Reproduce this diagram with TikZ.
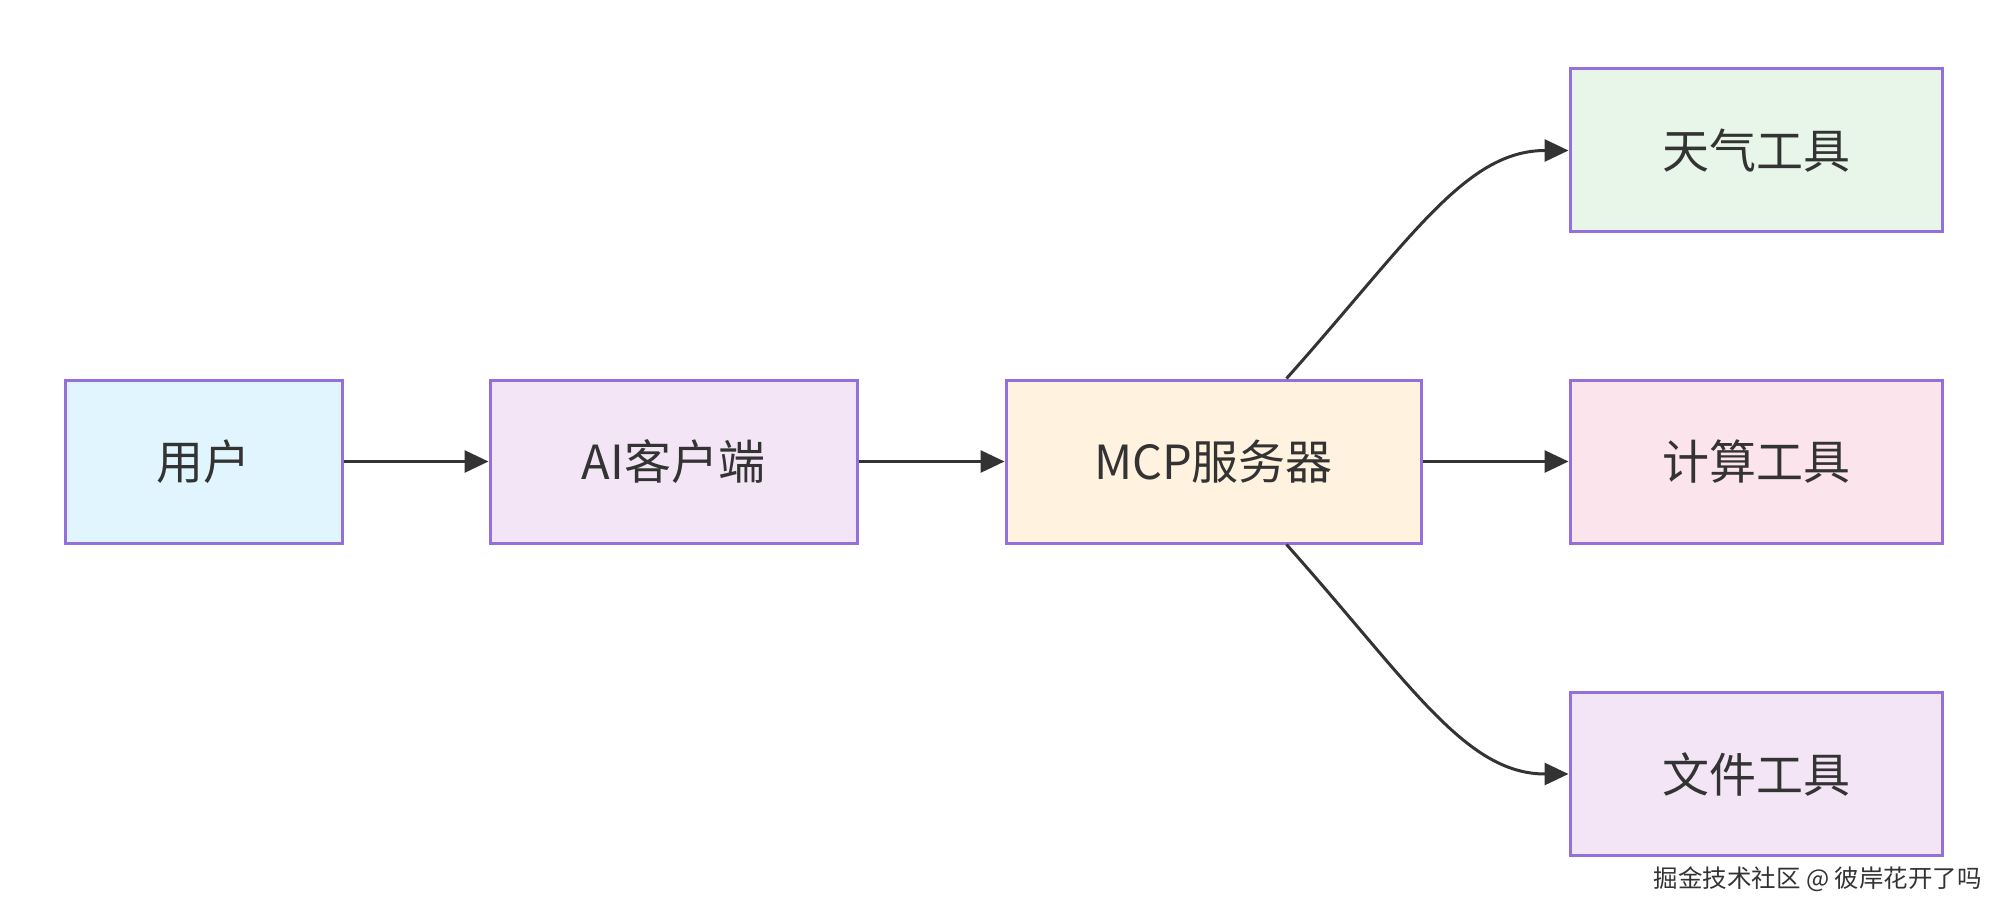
\documentclass[tikz,border=0pt]{standalone}
\usepackage{fontspec}
\setmainfont{Noto Sans CJK SC}
\usetikzlibrary{arrows.meta}
\definecolor{edgecol}{HTML}{9370DB}
\definecolor{txt}{HTML}{333333}
\definecolor{fuser}{HTML}{E1F5FE}
\definecolor{fai}{HTML}{F3E5F5}
\definecolor{fmcp}{HTML}{FFF3E0}
\definecolor{fweather}{HTML}{E8F5E9}
\definecolor{fcalc}{HTML}{FCE4EC}
\definecolor{ffile}{HTML}{F3E5F5}
\tikzset{
  box/.style={draw=edgecol, line width=3pt, inner sep=0pt, minimum height=163pt,
    text=txt, font=\fontsize{47}{52}\selectfont},
  conn/.style={draw=txt, line width=3pt, -{Triangle[length=24pt,width=22pt]}},
}
\begin{document}
\begin{tikzpicture}[x=1pt,y=-1pt]
\useasboundingbox (0,0) rectangle (2008,917);
\node[box, fill=fuser, minimum width=277pt] (user) at (203.5,461.5) {用户};
\node[box, fill=fai, minimum width=367pt] (ai) at (673.5,461.5) {AI客户端};
\node[box, fill=fmcp, minimum width=415pt] (mcp) at (1213.5,461.5) {MCP服务器};
\node[box, fill=fweather, minimum width=372pt] (weather) at (1756,150.5) {天气工具};
\node[box, fill=fcalc, minimum width=372pt] (calc) at (1756,461.5) {计算工具};
\node[box, fill=ffile, minimum width=372pt] (file) at (1756,774) {文件工具};
\coordinate (mtop) at ([xshift=73pt]mcp.north);
\coordinate (mbot) at ([xshift=73pt]mcp.south);
\draw[conn] (user.east) -- (ai.west);
\draw[conn] (ai.east) -- (mcp.west);
\draw[conn] (mcp.east) -- (calc.west);
\draw[conn] (mtop) .. controls (1410,240) and (1465,150.5) .. (weather.west);
\draw[conn] (mbot) .. controls (1410,683) and (1465,774) .. (file.west);
\node[text=txt, font=\fontsize{24.5}{28}\selectfont, anchor=east, inner sep=0pt] (wm) at (1982,879) {掘金技术社区 @ 彼岸花开了吗};
\end{tikzpicture}
\end{document}
